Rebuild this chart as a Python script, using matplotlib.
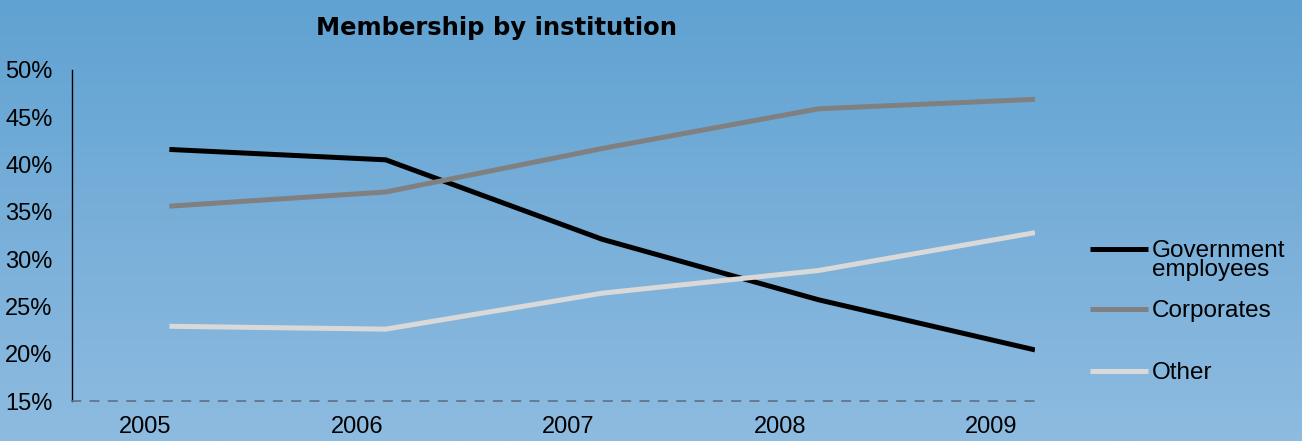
import matplotlib
matplotlib.use("Agg")
import matplotlib.pyplot as plt
from matplotlib.colors import LinearSegmentedColormap
from matplotlib.lines import Line2D
import numpy as np

# Share of membership by institution type, 2005-2009 (percent)
years = ["2005", "2006", "2007", "2008", "2009"]
government = [41.6, 40.5, 32.1, 25.7, 20.4]
corporates = [35.6, 37.1, 41.7, 45.9, 46.9]
other = [22.9, 22.6, 26.4, 28.8, 32.8]

series_names = ["Government\nemployees", "Corporates", "Other"]
series_colors = ["#000000", "#808080", "#D9D9D9"]

W, H = 1302, 441
fig = plt.figure(figsize=(W / 100, H / 100), dpi=100)
plt.rcParams["font.family"] = ["Liberation Sans", "DejaVu Sans"]

# vertical blue gradient behind everything
bg = fig.add_axes([0, 0, 1, 1], zorder=-10)
grad_cmap = LinearSegmentedColormap.from_list("bg", ["#8EBBE0", "#78AFD9", "#60A2D2"])
bg.imshow(np.linspace(0, 1, 256).reshape(-1, 1), cmap=grad_cmap, aspect="auto",
          origin="lower", extent=[0, 1, 0, 1])
bg.set_axis_off()

ax = fig.add_axes([72 / W, 40 / H, (1035 - 72) / W, 331 / H])
ax.set_facecolor("none")

x = np.arange(len(years))
for vals, col in zip([government, corporates, other], series_colors):
    ax.plot(x, vals, color=col, lw=3.6, solid_capstyle="butt", solid_joinstyle="round")

ax.set_xlim(-0.45, 4.0)
ax.set_ylim(15, 50)
ax.set_yticks(np.arange(15, 51, 5))
ax.set_yticklabels([f"{v}%" for v in range(15, 51, 5)], fontsize=17)
# year labels sit a little left of their data points
ax.set_xticks(x * 0.977 - 0.11)
ax.set_xticklabels(years, fontsize=17)
ax.tick_params(axis="y", length=0, pad=14)
ax.tick_params(axis="x", length=0, pad=11)

for side in ["top", "right"]:
    ax.spines[side].set_visible(False)
ax.spines["left"].set_color("#000000")
ax.spines["left"].set_linewidth(1.0)
ax.spines["bottom"].set_color("#5E7186")
ax.spines["bottom"].set_linewidth(1.2)
ax.spines["bottom"].set_linestyle((0, (5, 6)))

fig.text(497 / W, 1 - 28 / H, "Membership by institution", ha="center", va="center",
         fontsize=17.5, fontweight="bold", family="DejaVu Sans")

# legend on the right
legend_y = [249, 309, 371]
for name, col, ly in zip(series_names, series_colors, legend_y):
    fig.add_artist(Line2D([1090 / W, 1148 / W], [1 - ly / H, 1 - ly / H],
                          color=col, lw=3.6, solid_capstyle="butt"))
    fig.text(1152 / W, 1 - (ly - 9) / H, name, ha="left", va="top",
             fontsize=17.5, linespacing=0.85)

fig.savefig("out.png", dpi=100)
